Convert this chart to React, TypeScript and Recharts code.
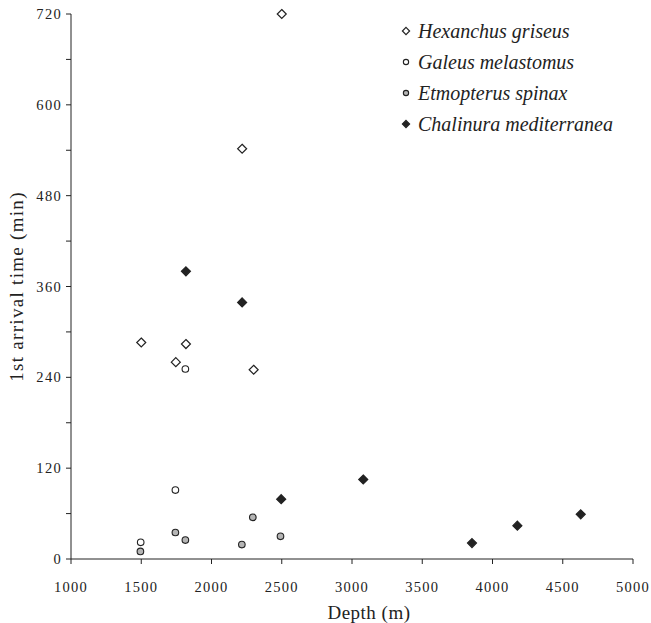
import React from 'react';
import { ScatterChart, Scatter, XAxis, YAxis } from 'recharts';

const hexanchus = [
  { depth: 2500, time: 720 },
  { depth: 2218, time: 542 },
  { depth: 1500, time: 286 },
  { depth: 1818, time: 284 },
  { depth: 1746, time: 260 },
  { depth: 2300, time: 250 },
];

const galeus = [
  { depth: 1814, time: 251 },
  { depth: 1743, time: 91 },
  { depth: 1496, time: 22 },
];

const etmopterus = [
  { depth: 1494, time: 10 },
  { depth: 1743, time: 35 },
  { depth: 1814, time: 25 },
  { depth: 2216, time: 19 },
  { depth: 2294, time: 55 },
  { depth: 2491, time: 30 },
];

const chalinura = [
  { depth: 1818, time: 380 },
  { depth: 2218, time: 339 },
  { depth: 2496, time: 79 },
  { depth: 3080, time: 105 },
  { depth: 3854, time: 21 },
  { depth: 4177, time: 44 },
  { depth: 4628, time: 59 },
];

const xTicks = [1000, 1500, 2000, 2500, 3000, 3500, 4000, 4500, 5000];
const yTicks = [0, 60, 120, 180, 240, 300, 360, 420, 480, 540, 600, 660, 720];

const font = '"Liberation Serif", "Times New Roman", serif';
const ink = '#222';

type Kind = 'openDiamond' | 'openCircle' | 'greyCircle' | 'blackDiamond';

const seriesList: { name: string; data: { depth: number; time: number }[]; kind: Kind }[] = [
  { name: 'Hexanchus griseus', data: hexanchus, kind: 'openDiamond' },
  { name: 'Galeus melastomus', data: galeus, kind: 'openCircle' },
  { name: 'Etmopterus spinax', data: etmopterus, kind: 'greyCircle' },
  { name: 'Chalinura mediterranea', data: chalinura, kind: 'blackDiamond' },
];

const Marker = ({ kind, x, y, s = 1 }: { kind: Kind; x: number; y: number; s?: number }) => {
  if (kind === 'openDiamond' || kind === 'blackDiamond') {
    const r = 4.5 * s;
    const d = `M${x},${y - r} L${x + r},${y} L${x},${y + r} L${x - r},${y} Z`;
    return (
      <path
        d={d}
        fill={kind === 'blackDiamond' ? ink : '#fff'}
        stroke={ink}
        strokeWidth={1.2}
      />
    );
  }
  return (
    <circle
      cx={x}
      cy={y}
      r={3.3 * s}
      fill={kind === 'greyCircle' ? '#b5b5b5' : '#fff'}
      stroke={ink}
      strokeWidth={1.1}
    />
  );
};

const makeShape = (kind: Kind) => (props: any) => <Marker kind={kind} x={props.cx} y={props.cy} />;

// legend drawn as an overlay so it doesn't eat into the plot width
const LegendBox = () => (
  <div
    style={{
      position: 'absolute',
      top: 15,
      left: 400,
      fontFamily: font,
      fontStyle: 'italic',
      fontSize: 20,
      color: ink,
      lineHeight: 1,
    }}
  >
    {seriesList.map((s) => (
      <div key={s.name} style={{ display: 'flex', alignItems: 'center', height: 31 }}>
        <svg width={12} height={12} style={{ marginRight: 6 }}>
          <Marker kind={s.kind} x={6} y={6} s={0.8} />
        </svg>
        <span>{s.name}</span>
      </div>
    ))}
  </div>
);

const yLabel = (v: number) => (v % 120 === 0 ? String(v) : '');

const tickStyle = { fill: ink, fontSize: 14.5, letterSpacing: 1.3, fontFamily: font };

// no body margin / no scrollbars, so the svg fills the whole 651x623 window
const pageCss = 'html,body{margin:0;overflow:hidden}.recharts-surface{overflow:visible;display:block}';

export default function App() {
  return (
    <div style={{ position: 'relative', width: 651, height: 623, overflow: 'hidden' }}>
      <style>{pageCss}</style>
      <ScatterChart
        width={651}
        height={623}
        margin={{ top: 14, right: 18, left: 0, bottom: 14 }}
        style={{ fontFamily: font }}
      >
        <XAxis
          type="number"
          dataKey="depth"
          domain={[1000, 5000]}
          ticks={xTicks}
          interval={0}
          height={50}
          tickSize={5}
          stroke={ink}
          tick={tickStyle}
          tickMargin={18}
          label={{ value: 'Depth (m)', position: 'insideBottom', offset: -10, dx: 17, fill: ink, fontSize: 19, letterSpacing: 0.5, fontFamily: font }}
        />
        <YAxis
          type="number"
          dataKey="time"
          domain={[0, 720]}
          ticks={yTicks}
          interval={0}
          width={71}
          tickSize={5}
          stroke={ink}
          tickFormatter={yLabel}
          tick={tickStyle}
          tickMargin={4}
          label={{ value: '1st arrival time (min)', angle: -90, position: 'insideLeft', offset: 16, fill: ink, fontSize: 19, letterSpacing: 1.3, fontFamily: font, style: { textAnchor: 'middle' } }}
        />
        {seriesList.map((s) => (
          <Scatter
            key={s.name}
            name={s.name}
            data={s.data}
            shape={makeShape(s.kind)}
            isAnimationActive={false}
          />
        ))}
      </ScatterChart>
      <LegendBox />
    </div>
  );
}
